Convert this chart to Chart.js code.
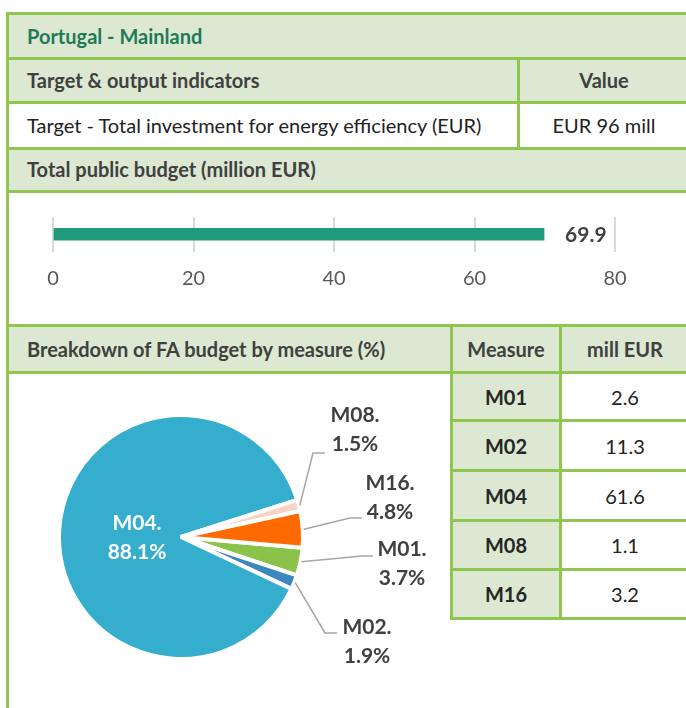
<!DOCTYPE html>
<html>
<head>
<meta charset="utf-8">
<script src="https://cdn.jsdelivr.net/npm/chart.js@4.4.1/dist/chart.umd.min.js"></script>
<style>
body { margin: 0; background: #fff; font-family: Lato, "Open Sans", sans-serif; color: #404040; }
#page { position: relative; width: 686px; height: 708px; overflow: hidden; }
.bg { position: absolute; background: #dce8d1; }
.h { position: absolute; height: 3px; background: #8fc550; }
.v { position: absolute; width: 3px; background: #8fc550; }
.t { position: absolute; font-size: 20px; line-height: 24px; height: 24px; white-space: nowrap; }
.b { font-weight: bold; }
.c { text-align: center; }
canvas { position: absolute; }
</style>
</head>
<body>
<div id="page">
  <!-- header backgrounds -->
  <div class="bg" style="left:6px;top:12px;width:684px;height:91px"></div>
  <div class="bg" style="left:6px;top:147px;width:684px;height:44px"></div>
  <div class="bg" style="left:6px;top:324px;width:684px;height:48px"></div>
  <div class="bg" style="left:450px;top:371px;width:110px;height:248px"></div>

  <div class="t b" style="left:27px;top:24px;color:#1f7a58">Portugal - Mainland</div>
  <div class="t b" style="left:27px;top:68px">Target &amp; output indicators</div>
  <div class="t b c" style="left:520px;width:168px;top:68px">Value</div>
  <div class="t" style="left:27px;top:113px;color:#222">Target - Total investment for energy efficiency (EUR)</div>
  <div class="t c" style="left:520px;width:168px;top:113px;color:#222">EUR 96 mill</div>
  <div class="t b" style="left:27px;top:157px">Total public budget (million EUR)</div>
  <div class="t b" style="left:27px;top:337px">Breakdown of FA budget by measure (%)</div>
  <div class="t b c" style="left:453px;width:106px;top:337px">Measure</div>
  <div class="t b c" style="left:562px;width:126px;top:337px">mill EUR</div>
  <div id="rows"></div>

  <canvas id="bar-chart" style="left:0;top:192px" width="686" height="131"></canvas>
  <canvas id="pie-chart" style="left:9px;top:374px" width="441" height="334"></canvas>

  <!-- grid lines -->
  <div class="h" style="left:6px;top:12px;width:684px"></div>
  <div class="h" style="left:6px;top:57px;width:684px"></div>
  <div class="h" style="left:6px;top:101px;width:684px"></div>
  <div class="h" style="left:6px;top:147px;width:684px"></div>
  <div class="h" style="left:6px;top:190px;width:684px"></div>
  <div class="h" style="left:6px;top:324px;width:684px"></div>
  <div class="h" style="left:6px;top:371px;width:684px"></div>
  <div class="v" style="left:6px;top:12px;height:696px"></div>
  <div class="v" style="left:517px;top:57px;height:93px"></div>
  <div class="v" style="left:450px;top:324px;height:296px"></div>
  <div class="v" style="left:559px;top:324px;height:296px"></div>
</div>

<script>
// bar: total public budget
const budgetCategories = ['Total public budget'];
const budgetValues = [69.9];
const budgetTicks = [0, 20, 40, 60, 80];

// pie + table: breakdown by measure
const measures = ['M01', 'M02', 'M04', 'M08', 'M16'];
const measureShares = [3.7, 1.9, 88.1, 1.5, 4.8];
const measureMillEur = [2.6, 11.3, 61.6, 1.1, 3.2];

const measureColors = ['#8bc34a', '#3d87c0', '#35aecd', '#f8d3c6', '#ff6a00'];
const labelFont = 'bold 21px Lato, "Open Sans", sans-serif';

// Table rows on the right
const rowsEl = document.getElementById('rows');
const rowTops = [371, 419, 469, 519, 568];
measures.forEach((m, i) => {
    const top = rowTops[i];
    const next = i < measures.length - 1 ? rowTops[i + 1] : 617;
    const cy = (top + next + 3) / 2 - 12;
    rowsEl.insertAdjacentHTML('beforeend',
        `<div class="t b c" style="left:453px;width:106px;top:${cy}px;color:#262626">${m}</div>` +
        `<div class="t c" style="left:562px;width:126px;top:${cy}px;color:#222">${measureMillEur[i].toFixed(1)}</div>` +
        `<div class="h" style="left:450px;top:${next}px;width:240px"></div>`);
});

// Value label at the end of the bar
const barValueLabel = {
    id: 'barValueLabel',
    afterDatasetsDraw(chart) {
        const ctx = chart.ctx;
        chart.getDatasetMeta(0).data.forEach((bar, i) => {
            ctx.save();
            ctx.font = 'bold 21px Lato, "Open Sans", sans-serif';
            ctx.fillStyle = '#404040';
            ctx.textAlign = 'left';
            ctx.textBaseline = 'middle';
            ctx.fillText(budgetValues[i].toFixed(1), bar.x + 21, bar.y + 1);
            ctx.restore();
        });
    }
};

new Chart(document.getElementById('bar-chart'), {
    type: 'bar',
    data: {
        labels: budgetCategories,
        datasets: [{
            data: budgetValues,
            backgroundColor: '#1f9a7a',
            barThickness: 12
        }]
    },
    options: {
        indexAxis: 'y',
        responsive: false,
        animation: false,
        layout: { padding: { left: 53, right: 71, top: 25, bottom: 37 } },
        plugins: { legend: { display: false }, tooltip: { enabled: false } },
        scales: {
            x: {
                min: budgetTicks[0],
                max: budgetTicks[budgetTicks.length - 1],
                afterBuildTicks: axis => { axis.ticks = budgetTicks.map(v => ({ value: v })); },
                grid: { color: '#d9d9d9', lineWidth: 2, drawTicks: false },
                border: { display: false },
                ticks: { padding: 15, color: '#595959', font: { family: 'Lato', size: 20 } }
            },
            y: { display: false }
        }
    },
    plugins: [barValueLabel]
});

// Leader lines and labels for the pie (offsets relative to the pie centre)
const pieLabelPlacement = {
    M08: { elbow: [132, -84], end: [144, -84], text: [174, -122] },
    M16: { elbow: [169, -19], end: [181, -19], text: [209, -54] },
    M01: { elbow: [181, 19], end: [192, 19], text: [221, 12] },
    M02: { elbow: [144, 96], end: [156, 96], text: [186, 90] },
    M04: { inside: true, text: [-44, -14] }
};

const pieLabels = {
    id: 'pieLabels',
    afterDatasetsDraw(chart) {
        const ctx = chart.ctx;
        const meta = chart.getDatasetMeta(0);
        meta.data.forEach((arc, i) => {
            const p = arc.getProps(['x', 'y', 'startAngle', 'endAngle', 'outerRadius']);
            const place = pieLabelPlacement[measures[i]];
            const lines = [measures[i] + '.', measureShares[i].toFixed(1) + '%'];
            ctx.save();
            ctx.font = labelFont;
            ctx.textAlign = 'center';
            ctx.textBaseline = 'middle';
            if (place.inside) {
                ctx.fillStyle = '#ffffff';
            } else {
                const mid = (p.startAngle + p.endAngle) / 2;
                ctx.strokeStyle = '#a6a6a6';
                ctx.lineWidth = 1.5;
                ctx.beginPath();
                ctx.moveTo(p.x + Math.cos(mid) * (p.outerRadius + 1), p.y + Math.sin(mid) * (p.outerRadius + 1));
                ctx.lineTo(p.x + place.elbow[0], p.y + place.elbow[1]);
                ctx.lineTo(p.x + place.end[0], p.y + place.end[1]);
                ctx.stroke();
                ctx.fillStyle = '#404040';
            }
            lines.forEach((s, k) => {
                ctx.fillText(s, p.x + place.text[0], p.y + place.text[1] + k * 29);
            });
            ctx.restore();
        });
    }
};

new Chart(document.getElementById('pie-chart'), {
    type: 'pie',
    data: {
        labels: measures,
        datasets: [{
            data: measureShares,
            backgroundColor: measureColors,
            borderColor: '#ffffff',
            borderWidth: 4,
            hoverOffset: 0
        }]
    },
    options: {
        responsive: false,
        animation: false,
        rotation: 95,
        layout: { padding: { left: 47, right: 144, top: 39, bottom: 47 } },
        plugins: { legend: { display: false }, tooltip: { enabled: false } }
    },
    plugins: [pieLabels]
});
</script>
</body>
</html>
